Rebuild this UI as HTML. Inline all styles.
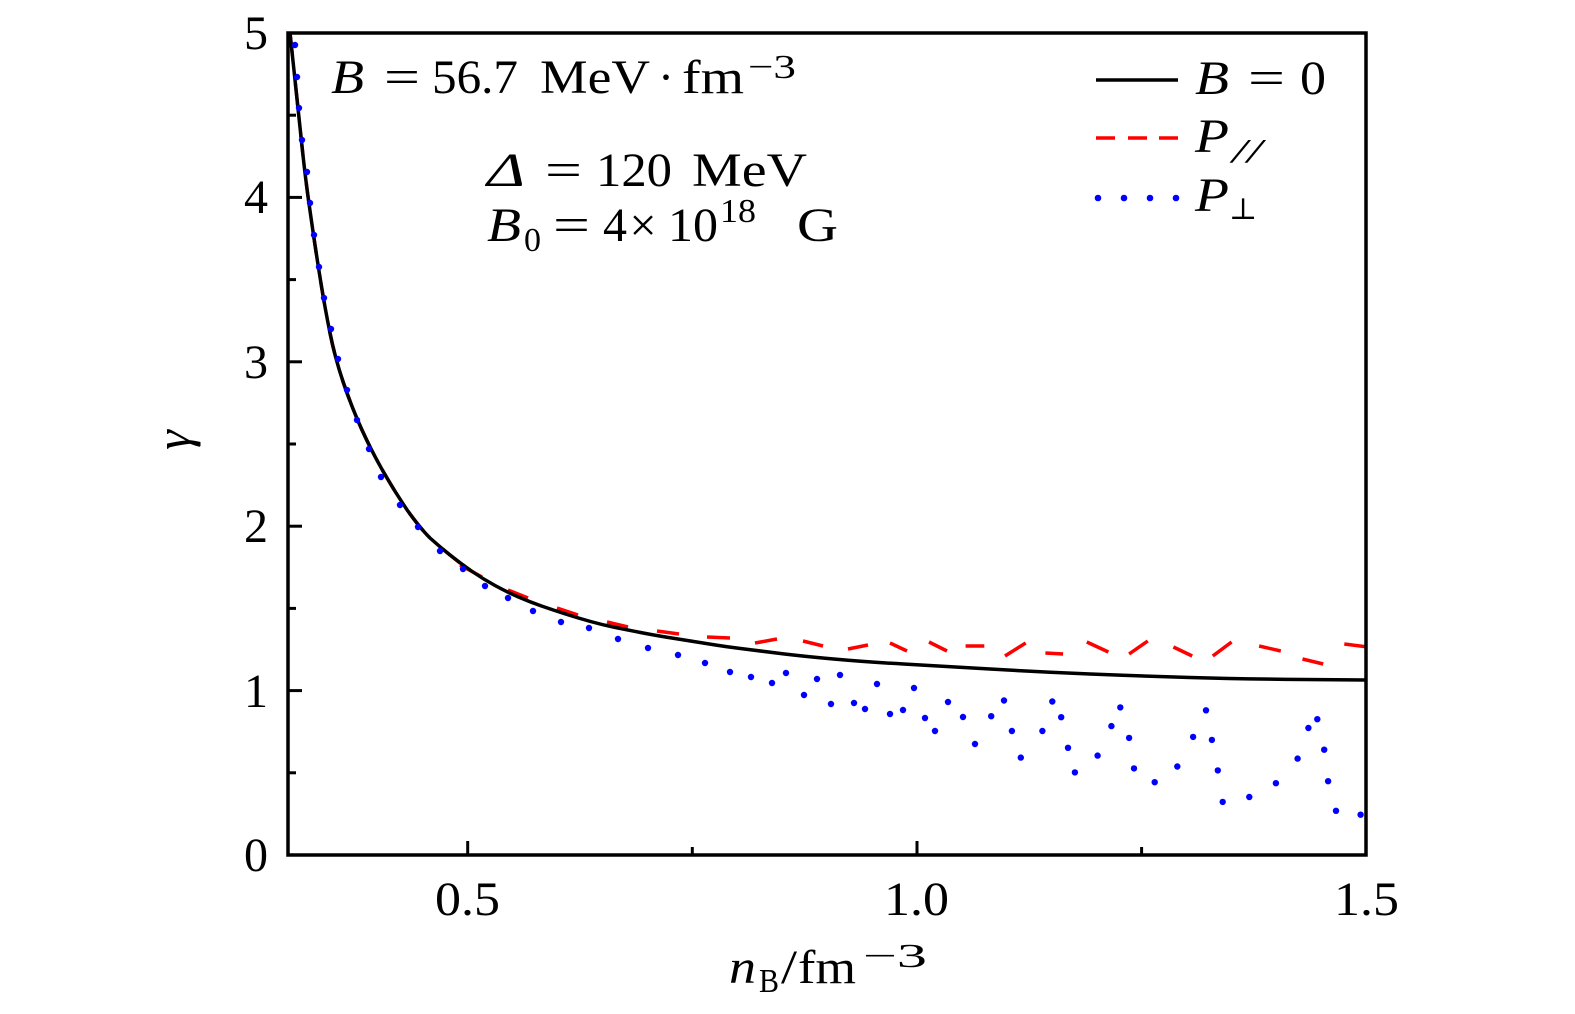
<!DOCTYPE html>
<html>
<head>
<meta charset="utf-8">
<style>
html,body{margin:0;padding:0;background:#fff;}
svg{display:block;}
text{font-family:"Liberation Serif","DejaVu Serif",serif;fill:#000;}
.it{font-style:italic;}
</style>
</head>
<body>
<svg width="1575" height="1014" viewBox="0 0 1575 1014" xmlns="http://www.w3.org/2000/svg">
<rect width="1575" height="1014" fill="#fff"/>
<defs>
<clipPath id="c"><rect x="288" y="33" width="1078" height="822"/></clipPath>
</defs>

<g clip-path="url(#c)">
<path fill="none" stroke="#ff0000" stroke-width="3.5" stroke-dasharray="23 27"
 d="M290,33 L294,70.5 Q298,108 301.5,141.5 Q305,175 308.5,200 Q312,225 315,245 Q318,265 321.5,286.5 Q325,308 330,333 Q335,358 343.5,383 Q352,408 362,430 Q372,452 383.5,472 Q395,492 407.5,510.5 Q420,528 430,538 Q440,547 450,555 L460,563"/>
<g stroke="#ff0000" stroke-width="3.5" fill="none">
<line x1="460" y1="565" x2="482" y2="577"/>
<line x1="508" y1="590" x2="528" y2="598"/>
<line x1="557" y1="608" x2="578" y2="615"/>
<line x1="607" y1="622" x2="628" y2="627"/>
<line x1="657" y1="631" x2="679" y2="634"/>
<line x1="707" y1="637" x2="730" y2="638"/>
<line x1="755" y1="643" x2="777" y2="639"/>
<line x1="803" y1="641" x2="823" y2="646"/>
<line x1="848" y1="649" x2="868" y2="645"/>
<line x1="890" y1="643" x2="907" y2="651"/>
<line x1="929" y1="642" x2="947" y2="651"/>
<line x1="965.6" y1="646" x2="984.3" y2="646"/>
<line x1="1005" y1="656" x2="1025.7" y2="643"/>
<line x1="1045.4" y1="653" x2="1063.1" y2="654"/>
<line x1="1086.8" y1="642" x2="1108.4" y2="652"/>
<line x1="1129.1" y1="654" x2="1147.8" y2="641"/>
<line x1="1173.4" y1="647" x2="1192.2" y2="656"/>
<line x1="1212.8" y1="656" x2="1231.6" y2="642"/>
<line x1="1259.1" y1="646" x2="1280.8" y2="651"/>
<line x1="1302.5" y1="659" x2="1323.2" y2="664"/>
<line x1="1344.3" y1="644" x2="1368" y2="647"/>
</g>

<path fill="none" stroke="#000" stroke-width="3.5"
 d="M290,33 L294,70.5 Q298,108 301.5,141.5 Q305,175 308.5,200 Q312,225 315,245 Q318,265 321.5,286.5 Q325,308 330,333 Q335,358 343.5,383 Q352,408 362,430 Q372,452 383.5,472 Q395,492 407.5,510.5 Q420,528 430,538 Q440,547 450,555 Q460,563 471.5,571 Q483,579 495,585.5 Q507,592 518.5,597 Q530,602 541.5,606 Q553,610 565.5,614 Q578,618 590.5,621.5 Q603,625 615.5,627.5 Q628,630 640.5,632.5 Q653,635 665.5,637 Q678,639 690.5,641 Q703,643 715.5,645 Q728,647 740.5,648.5 Q753,650 776.5,653 Q800,656 833.5,659 Q867,662 903.5,664 Q940,666 990,669 Q1040,672 1090,674 Q1140,676 1190,677.5 Q1240,679 1304,679.5 L1368,680"/>

<g fill="#0000ff">
<circle cx="295" cy="45" r="3.2"/>
<circle cx="297" cy="77" r="3.2"/>
<circle cx="299" cy="108" r="3.2"/>
<circle cx="302" cy="140" r="3.2"/>
<circle cx="307" cy="172" r="3.2"/>
<circle cx="310" cy="203" r="3.2"/>
<circle cx="314" cy="235" r="3.2"/>
<circle cx="319" cy="267" r="3.2"/>
<circle cx="324" cy="298" r="3.2"/>
<circle cx="331" cy="329" r="3.2"/>
<circle cx="338" cy="359" r="3.2"/>
<circle cx="347" cy="390" r="3.2"/>
<circle cx="357" cy="420" r="3.2"/>
<circle cx="369" cy="449" r="3.2"/>
<circle cx="381" cy="477" r="3.2"/>
<circle cx="400" cy="505" r="3.2"/>
<circle cx="418" cy="527" r="3.2"/>
<circle cx="440" cy="551" r="3.2"/>
<circle cx="463" cy="569" r="3.2"/>
<circle cx="485" cy="586" r="3.2"/>
<circle cx="508" cy="598" r="3.2"/>
<circle cx="533" cy="611" r="3.2"/>
<circle cx="561" cy="622" r="3.2"/>
<circle cx="589" cy="628" r="3.2"/>
<circle cx="618" cy="639" r="3.2"/>
<circle cx="648" cy="648" r="3.2"/>
<circle cx="678" cy="655" r="3.2"/>
<circle cx="705" cy="663" r="3.2"/>
<circle cx="730" cy="672" r="3.2"/>
<circle cx="751" cy="677" r="3.2"/>
<circle cx="772" cy="683" r="3.2"/>
<circle cx="786" cy="673" r="3.2"/>
<circle cx="804" cy="695" r="3.2"/>
<circle cx="817" cy="679" r="3.2"/>
<circle cx="831" cy="704" r="3.2"/>
<circle cx="840" cy="675" r="3.2"/>
<circle cx="854" cy="703" r="3.2"/>
<circle cx="865" cy="709" r="3.2"/>
<circle cx="877" cy="684" r="3.2"/>
<circle cx="890" cy="714" r="3.2"/>
<circle cx="903" cy="710" r="3.2"/>
<circle cx="914" cy="688" r="3.2"/>
<circle cx="925" cy="718" r="3.2"/>
<circle cx="935" cy="731" r="3.2"/>
<circle cx="948" cy="702" r="3.2"/>
<circle cx="963" cy="717" r="3.2"/>
<circle cx="975" cy="744" r="3.2"/>
<circle cx="991.2" cy="716.2" r="3.2"/>
<circle cx="1004" cy="700.5" r="3.2"/>
<circle cx="1011.9" cy="731" r="3.2"/>
<circle cx="1020.8" cy="757.6" r="3.2"/>
<circle cx="1042.4" cy="731" r="3.2"/>
<circle cx="1052.3" cy="701.5" r="3.2"/>
<circle cx="1061.2" cy="717.2" r="3.2"/>
<circle cx="1068" cy="747.8" r="3.2"/>
<circle cx="1074.9" cy="772.4" r="3.2"/>
<circle cx="1097.6" cy="755.6" r="3.2"/>
<circle cx="1111.4" cy="726.1" r="3.2"/>
<circle cx="1120.3" cy="707.4" r="3.2"/>
<circle cx="1129.1" cy="737.9" r="3.2"/>
<circle cx="1134" cy="768.4" r="3.2"/>
<circle cx="1154.7" cy="782.2" r="3.2"/>
<circle cx="1177.3" cy="766.5" r="3.2"/>
<circle cx="1193.1" cy="736.9" r="3.2"/>
<circle cx="1206" cy="710.3" r="3.2"/>
<circle cx="1211.9" cy="739.9" r="3.2"/>
<circle cx="1217.8" cy="770.4" r="3.2"/>
<circle cx="1222.7" cy="801.9" r="3.2"/>
<circle cx="1249.3" cy="797" r="3.2"/>
<circle cx="1275.9" cy="783.2" r="3.2"/>
<circle cx="1297.6" cy="758.6" r="3.2"/>
<circle cx="1308.4" cy="728" r="3.2"/>
<circle cx="1317.3" cy="719.2" r="3.2"/>
<circle cx="1324.2" cy="749.7" r="3.2"/>
<circle cx="1328.1" cy="781.2" r="3.2"/>
<circle cx="1336" cy="810.8" r="3.2"/>
<circle cx="1360.6" cy="814.7" r="3.2"/>
</g>
</g>

<rect x="288" y="33" width="1078" height="822" fill="none" stroke="#000" stroke-width="3.5"/>

<g stroke="#000" stroke-width="3">
<line x1="467.7" y1="855" x2="467.7" y2="841"/>
<line x1="917" y1="855" x2="917" y2="841"/>
<line x1="692.3" y1="855" x2="692.3" y2="847"/>
<line x1="1141.6" y1="855" x2="1141.6" y2="847"/>
<line x1="288" y1="690.6" x2="302" y2="690.6"/>
<line x1="288" y1="526.2" x2="302" y2="526.2"/>
<line x1="288" y1="361.8" x2="302" y2="361.8"/>
<line x1="288" y1="197.4" x2="302" y2="197.4"/>
<line x1="288" y1="772.8" x2="296" y2="772.8"/>
<line x1="288" y1="608.4" x2="296" y2="608.4"/>
<line x1="288" y1="444" x2="296" y2="444"/>
<line x1="288" y1="279.6" x2="296" y2="279.6"/>
<line x1="288" y1="115.2" x2="296" y2="115.2"/>
</g>

<g font-size="48" text-anchor="end">
<text x="268" y="871">0</text>
<text x="268" y="707">1</text>
<text x="268" y="542">2</text>
<text x="268" y="378">3</text>
<text x="268" y="213">4</text>
<text x="268" y="49">5</text>
</g>
<g font-size="48">
<text x="435" y="915" textLength="65" lengthAdjust="spacingAndGlyphs">0.5</text>
<text x="884" y="915" textLength="65" lengthAdjust="spacingAndGlyphs">1.0</text>
<text x="1334" y="915" textLength="65" lengthAdjust="spacingAndGlyphs">1.5</text>
</g>

<text class="it" font-size="48" x="729" y="983" textLength="27" lengthAdjust="spacingAndGlyphs">n</text>
<text font-size="34" x="759" y="992" textLength="20" lengthAdjust="spacingAndGlyphs">B</text>
<text font-size="48" x="781" y="983" textLength="16" lengthAdjust="spacingAndGlyphs">/</text>
<text font-size="48" x="798" y="983" textLength="58" lengthAdjust="spacingAndGlyphs">fm</text>
<text font-size="34" x="863" y="967" textLength="64" lengthAdjust="spacingAndGlyphs">−3</text>

<text class="it" font-size="50" x="190" y="440" text-anchor="middle" transform="rotate(-90 190 440)">γ</text>

<text class="it" font-size="48" x="331" y="93" textLength="33" lengthAdjust="spacingAndGlyphs">B</text>
<text font-size="48" x="384" y="93" textLength="36" lengthAdjust="spacingAndGlyphs">=</text>
<text font-size="48" x="432" y="93" textLength="86" lengthAdjust="spacingAndGlyphs">56.7</text>
<text font-size="48" x="540" y="93" textLength="110" lengthAdjust="spacingAndGlyphs">MeV</text>
<text font-size="48" x="666" y="93" text-anchor="middle">·</text>
<text font-size="48" x="682" y="93" textLength="62" lengthAdjust="spacingAndGlyphs">fm</text>
<text font-size="34" x="748" y="78" textLength="48" lengthAdjust="spacingAndGlyphs">−3</text>

<text class="it" font-size="48" x="487" y="186" textLength="38" lengthAdjust="spacingAndGlyphs">Δ</text>
<text font-size="48" x="545" y="186" textLength="37" lengthAdjust="spacingAndGlyphs">=</text>
<text font-size="48" x="596" y="186" textLength="76" lengthAdjust="spacingAndGlyphs">120</text>
<text font-size="48" x="692" y="186" textLength="115" lengthAdjust="spacingAndGlyphs">MeV</text>

<text class="it" font-size="48" x="487" y="241" textLength="34" lengthAdjust="spacingAndGlyphs">B</text>
<text font-size="34" x="524" y="251">0</text>
<text font-size="48" x="553" y="241" textLength="37" lengthAdjust="spacingAndGlyphs">=</text>
<text font-size="48" x="603" y="241">4</text>
<text font-size="48" x="643" y="241" text-anchor="middle">×</text>
<text font-size="48" x="668" y="241" textLength="50" lengthAdjust="spacingAndGlyphs">10</text>
<text font-size="34" x="720" y="222" textLength="36" lengthAdjust="spacingAndGlyphs">18</text>
<text font-size="48" x="797" y="241" textLength="41" lengthAdjust="spacingAndGlyphs">G</text>

<line x1="1096" y1="80" x2="1178" y2="80" stroke="#000" stroke-width="3.5"/>
<g stroke="#ff0000" stroke-width="3.5">
<line x1="1096" y1="138" x2="1115" y2="138"/>
<line x1="1128" y1="138" x2="1147" y2="138"/>
<line x1="1159" y1="138" x2="1178" y2="138"/>
</g>
<g fill="#0000ff">
<circle cx="1098" cy="198" r="3.3"/>
<circle cx="1124" cy="198" r="3.3"/>
<circle cx="1150" cy="198" r="3.3"/>
<circle cx="1176" cy="198" r="3.3"/>
</g>
<text class="it" font-size="48" x="1195" y="94" textLength="34" lengthAdjust="spacingAndGlyphs">B</text>
<text font-size="48" x="1248" y="94" textLength="37" lengthAdjust="spacingAndGlyphs">=</text>
<text font-size="48" x="1300" y="94" textLength="26" lengthAdjust="spacingAndGlyphs">0</text>

<text class="it" font-size="48" x="1195" y="152" textLength="34" lengthAdjust="spacingAndGlyphs">P</text>
<text class="it" font-size="34" x="1232" y="162" textLength="30" lengthAdjust="spacingAndGlyphs">//</text>

<text class="it" font-size="48" x="1195" y="211" textLength="34" lengthAdjust="spacingAndGlyphs">P</text>
<text font-size="30" x="1229" y="219">⊥</text>
</svg>
</body>
</html>
